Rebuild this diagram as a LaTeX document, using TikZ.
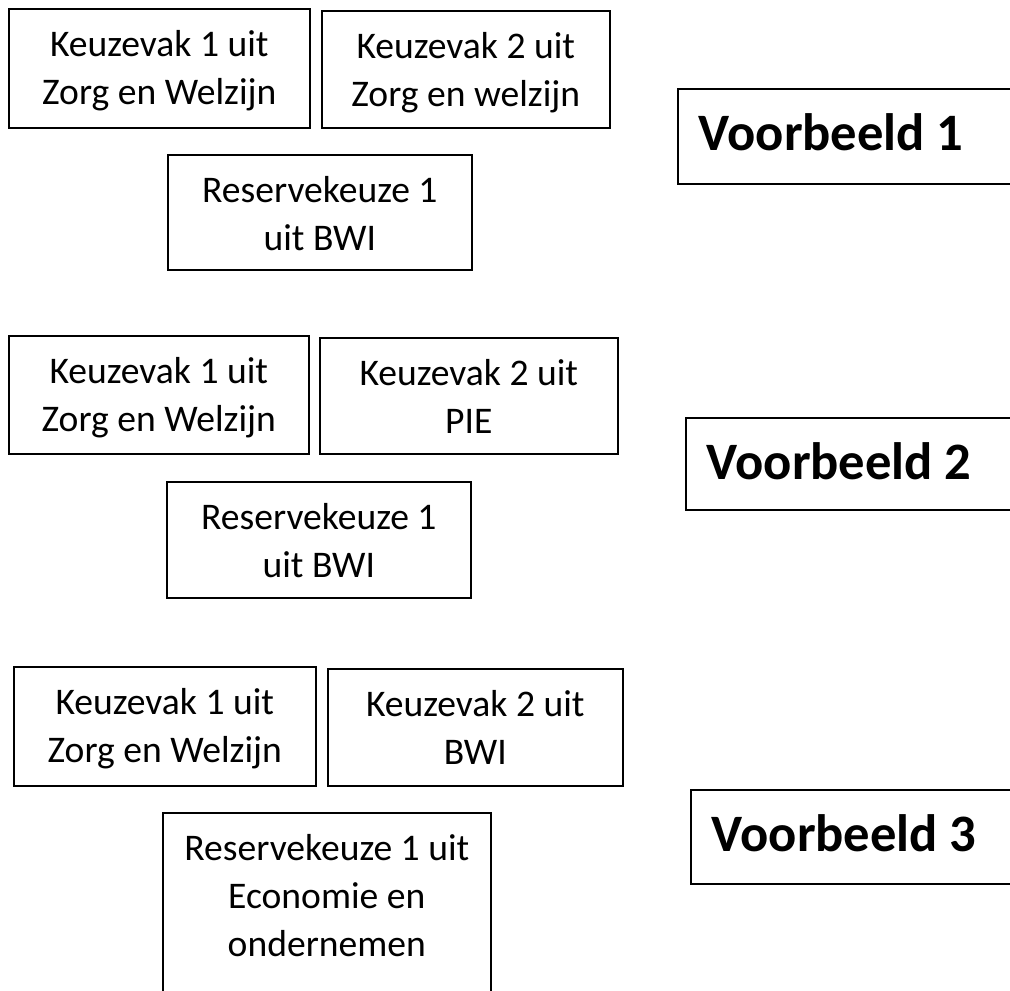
\documentclass[tikz,border=0pt]{standalone}
\usepackage{fontspec}
\setmainfont{Carlito}

% text of a box, set from the top like a Word text box
\newcommand{\vaktekst}[3]{\parbox[c][#2][t]{#1}{\centering\rule{0pt}{48pt}#3}}
\newcommand{\voorbeeldtekst}[3]{\parbox[c][#2][t]{#1}{\hspace*{21pt}\rule{0pt}{62pt}#3}}

\begin{document}
\begin{tikzpicture}[
  x=1pt, y=-1pt,
  vak/.style={rectangle, draw, line width=1.6pt, anchor=north west, inner sep=0pt,
    font=\fontsize{37.6}{48}\selectfont},
  voorbeeldbox/.style={rectangle, draw, line width=1.6pt, anchor=north west, inner sep=0pt,
    font=\fontsize{52.6}{62}\selectfont\bfseries}
]

\path[use as bounding box, clip] (0,0) rectangle (1010,991);

% Voorbeeld 1
\node[vak] (keuze1a) at (8, 8) {\vaktekst{301pt}{119pt}{Keuzevak 1 uit\\Zorg en Welzijn}};
\node[vak] (keuze2a) at (321, 10) {\vaktekst{288pt}{117pt}{Keuzevak 2 uit\\Zorg en welzijn}};
\node[vak] (reservea) at (167, 154) {\vaktekst{304pt}{115pt}{Reservekeuze 1\\uit BWI}};
\node[voorbeeldbox] (voorbeelda) at (677, 88) {\voorbeeldtekst{345pt}{95pt}{Voorbeeld 1}};

% Voorbeeld 2
\node[vak] (keuze1b) at (8, 335) {\vaktekst{300pt}{118pt}{Keuzevak 1 uit\\Zorg en Welzijn}};
\node[vak] (keuze2b) at (319, 337) {\vaktekst{298pt}{116pt}{Keuzevak 2 uit\\PIE}};
\node[vak] (reserveb) at (166, 481) {\vaktekst{304pt}{116pt}{Reservekeuze 1\\uit BWI}};
\node[voorbeeldbox] (voorbeeldb) at (685, 417) {\voorbeeldtekst{345pt}{92pt}{Voorbeeld 2}};

% Voorbeeld 3
\node[vak] (keuze1c) at (13, 666) {\vaktekst{302pt}{119pt}{Keuzevak 1 uit\\Zorg en Welzijn}};
\node[vak] (keuze2c) at (327, 668) {\vaktekst{295pt}{117pt}{Keuzevak 2 uit\\BWI}};
\node[vak] (reservec) at (162, 812) {\vaktekst{328pt}{200pt}{Reservekeuze 1 uit\\Economie en\\ondernemen}};
\node[voorbeeldbox] (voorbeeldc) at (690, 789) {\voorbeeldtekst{345pt}{94pt}{Voorbeeld 3}};

\end{tikzpicture}
\end{document}
